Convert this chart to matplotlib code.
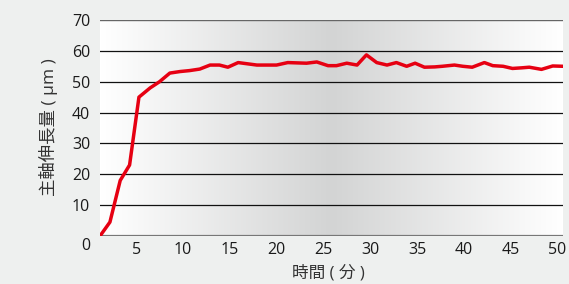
import numpy as np
import matplotlib.pyplot as plt
from matplotlib.colors import LinearSegmentedColormap

plt.rcParams['font.family'] = ['Open Sans', 'Noto Sans CJK JP', 'DejaVu Sans']

# time (min)
time = [1.14, 2.2, 3.3, 4.3, 5.3, 6.5, 7.5, 8.6, 9.7, 10.7, 11.8, 12.9, 13.9, 14.8,
        15.9, 16.9, 17.9, 19.0, 20.0, 21.2, 22.2, 23.2, 24.3, 25.5, 26.4, 27.5, 28.6,
        29.6, 30.7, 31.8, 32.8, 33.9, 34.8, 35.8, 36.9, 37.7, 39.0, 39.9, 40.9, 42.2,
        43.1, 44.2, 45.2, 46.2, 47.0, 48.3, 49.5, 50.6]
# spindle elongation (um)
elong = [0, 4.5, 18, 23, 45, 48, 50, 52.8, 53.3, 53.6, 54.1, 55.4, 55.4, 54.7,
         56.2, 55.8, 55.4, 55.4, 55.4, 56.2, 56.1, 56.0, 56.4, 55.2, 55.2, 56.0, 55.4,
         58.7, 56.2, 55.4, 56.2, 55.0, 56.0, 54.7, 54.8, 55.0, 55.4, 55.0, 54.7, 56.2,
         55.2, 55.0, 54.3, 54.5, 54.7, 54.0, 55.1, 55.0]

xticks = [5, 10, 15, 20, 25, 30, 35, 40, 45, 50]
yticks = [10, 20, 30, 40, 50, 60, 70]

bg = '#eef0ef'
fig = plt.figure(figsize=(5.69, 2.84), dpi=100, facecolor=bg)
ax = fig.add_axes([100/569, 1-236/284, 463/569, 216/284])

cmap = LinearSegmentedColormap.from_list('g', ['#ffffff', '#d3d4d4', '#ffffff'])
grad = np.linspace(0, 1, 256).reshape(1, -1)
ax.imshow(grad, cmap=cmap, aspect='auto', extent=[0, 1, 0, 1],
          transform=ax.transAxes, zorder=0)

for y in yticks[:-1]:
    ax.axhline(y, color='#111111', lw=0.9, zorder=1)
ax.axhline(70, color='#666666', lw=1.0, zorder=1)
ax.axhline(0, color='#777777', lw=1.6, zorder=1)

ax.plot(time, elong, color='#e60012', lw=2.5, zorder=3, solid_joinstyle='round')

ax.set_xlim(1.14, 50.6)
ax.set_ylim(0, 70)
ax.set_xticks(xticks)
ax.set_yticks(yticks)
ax.tick_params(length=0, labelsize=11.5, colors='#1a1a1a')
ax.tick_params(axis='y', pad=7)
ax.tick_params(axis='x', pad=4)
for s in ax.spines.values():
    s.set_visible(False)

fig.text(86/569, 1-246/284, '0', ha='center', va='center', fontsize=11.5, color='#1a1a1a')
fig.text(328/569, 1-273/284, '時間 ( 分 )', ha='center', va='center', fontsize=12,
         color='#333333')
fig.text(49/569, 1-127/284, '主軸伸長量 ( μm )', ha='center', va='center', fontsize=12.5,
         rotation=90, color='#333333')

fig.savefig('out.png', facecolor=bg)
